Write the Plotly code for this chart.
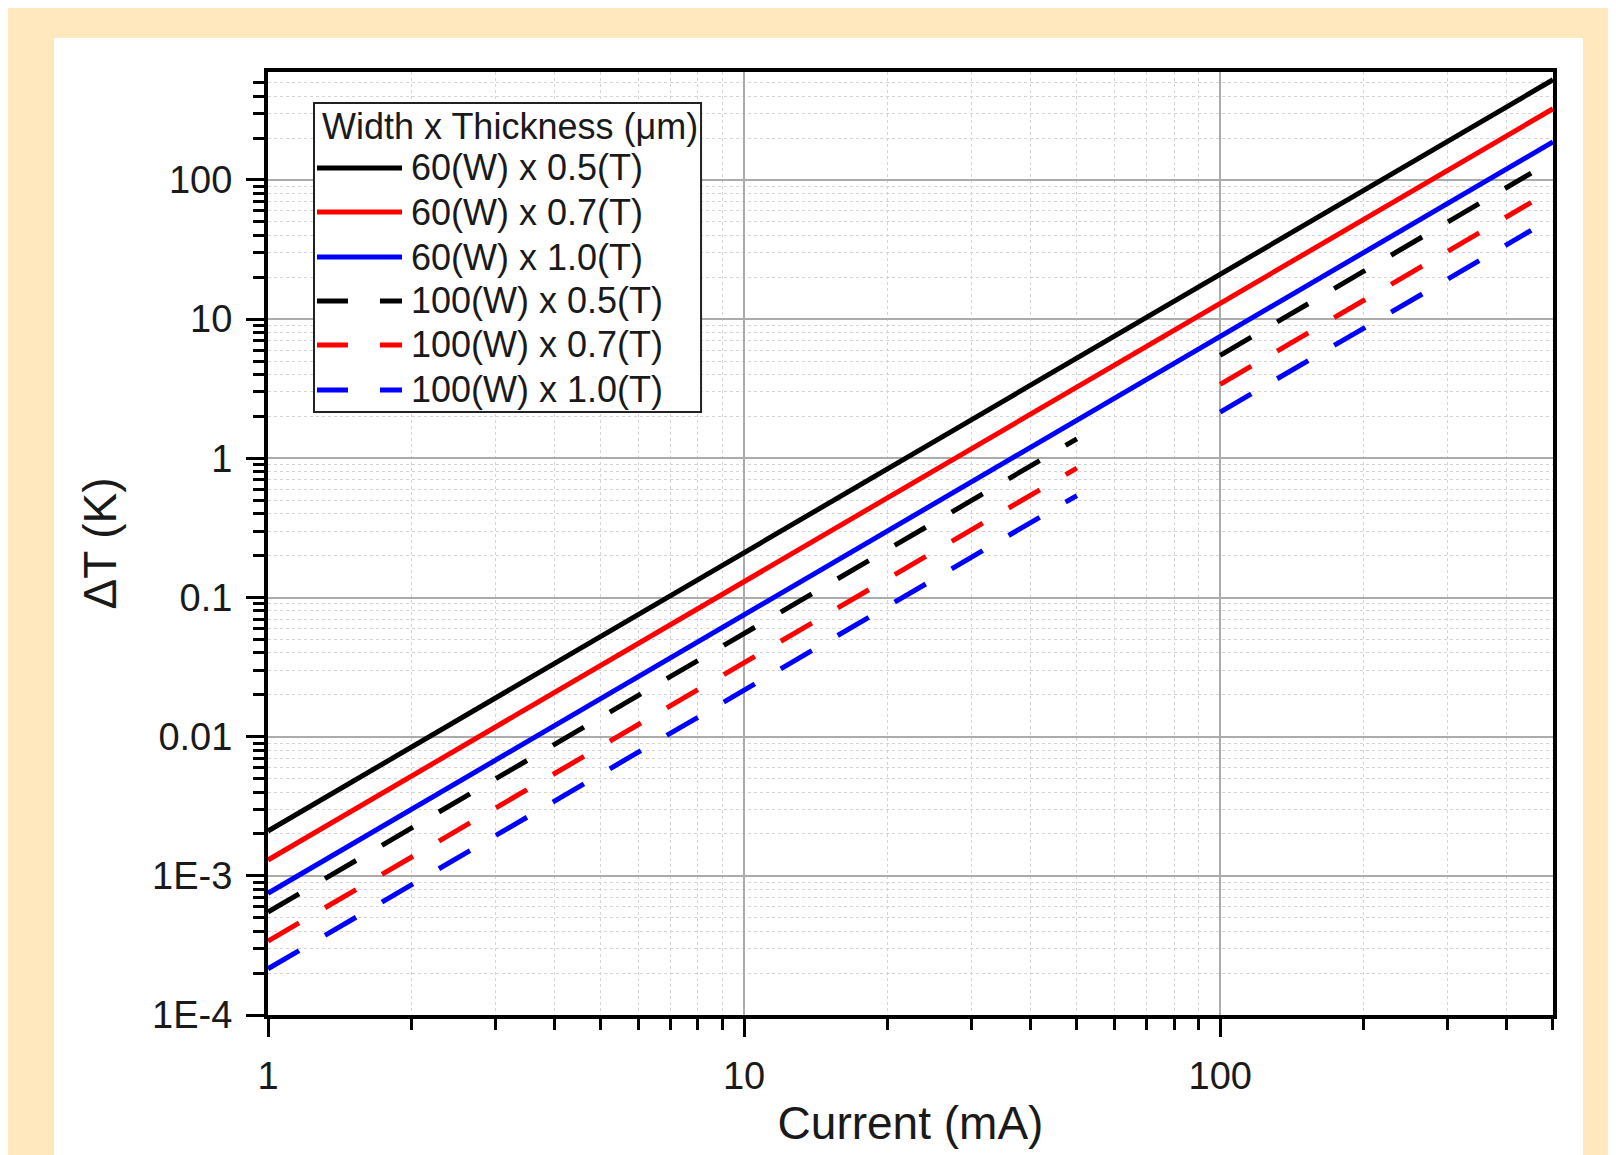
import plotly.graph_objects as go

# ---- data ----
current_60 = [1, 2, 5, 10, 20, 50, 100, 200, 500]
dT_60x05 = [2.1e-3, 8.4e-3, 0.052, 0.21, 0.84, 5.2, 21, 84, 525]
dT_60x07 = [1.3e-3, 5.2e-3, 0.033, 0.13, 0.52, 3.25, 13, 52, 325]
dT_60x10 = [7.5e-4, 3.0e-3, 0.019, 0.075, 0.30, 1.9, 7.5, 30, 188]

current_100 = [1, 2, 5, 10, 20, 50, None, 100, 200, 450]
dT_100x05 = [5.5e-4, 2.2e-3, 0.0138, 0.055, 0.22, 1.38, None, 5.5, 22, 112]
dT_100x07 = [3.4e-4, 1.36e-3, 0.0085, 0.034, 0.136, 0.85, None, 3.4, 13.6, 69]
dT_100x10 = [2.15e-4, 8.6e-4, 0.0054, 0.0215, 0.086, 0.54, None, 2.15, 8.6, 43.5]

names = ["60(W) x 0.5(T)", "60(W) x 0.7(T)", "60(W) x 1.0(T)",
         "100(W) x 0.5(T)", "100(W) x 0.7(T)", "100(W) x 1.0(T)"]
colors = ["#000000", "#ff0000", "#0000ff"]
legend_title = "Width x Thickness (μm)"

y_tickvals = [1e-4, 1e-3, 1e-2, 1e-1, 1, 10, 100]
y_ticktext = ["1E-4", "1E-3", "0.01", "0.1", "1", "10", "100"]
x_tickvals = [1, 10, 100]
x_ticktext = ["1", "10", "100"]
minor_mult = [2, 3, 4, 5, 6, 7, 8, 9]
x_minor = [m * d for d in (1, 10, 100) for m in minor_mult if m * d <= 500]
y_minor = [m * d for d in (1e-4, 1e-3, 1e-2, 1e-1, 1, 10, 100) for m in minor_mult if m * d <= 600]

FONT = "Arial, Liberation Sans, sans-serif"
TXT = "#1a1a1a"
DASH_PLOT = "36px,30px"
DASH_LEG = "31px,32px"

fig = go.Figure()
series_solid = [dT_60x05, dT_60x07, dT_60x10]
series_dash = [dT_100x05, dT_100x07, dT_100x10]
for ys, nm, c in zip(series_solid, names[:3], colors):
    fig.add_trace(go.Scatter(x=current_60, y=ys, name=nm, mode="lines", showlegend=False,
                             line=dict(color=c, width=5)))
for ys, nm, c in zip(series_dash, names[3:], colors):
    fig.add_trace(go.Scatter(x=current_100, y=ys, name=nm, mode="lines", showlegend=False,
                             connectgaps=False,
                             line=dict(color=c, width=5, dash=DASH_PLOT)))

# white panel on orange page
fig.add_shape(type="rect", xref="paper", yref="paper",
              x0=-0.1665, x1=1.0233, y0=-0.25, y1=1.036,
              fillcolor="white", line=dict(width=0), layer="below")

# ---- legend box (drawn in paper coordinates) ----
box_x0, box_x1, box_y0, box_y1 = 0.0358, 0.337, 0.6394, 0.967
fig.add_shape(type="rect", xref="paper", yref="paper",
              x0=box_x0, x1=box_x1, y0=box_y0, y1=box_y1,
              fillcolor="white", line=dict(color="#222222", width=2), layer="above")
fig.add_annotation(xref="paper", yref="paper", x=0.0405, y=0.9427, xanchor="left",
                   yanchor="middle", text=legend_title, showarrow=False,
                   font=dict(family=FONT, size=36, color=TXT))
row_y = [0.8982, 0.8515, 0.8038, 0.7572, 0.7105, 0.6628]
styles = [(c, None) for c in colors] + [(c, DASH_LEG) for c in colors]
for ry, nm, (c, d) in zip(row_y, names, styles):
    ln = dict(color=c, width=5)
    if d:
        ln["dash"] = d
    fig.add_shape(type="line", xref="paper", yref="paper", x0=0.0381, x1=0.1043,
                  y0=ry, y1=ry, line=ln, layer="above")
    fig.add_annotation(xref="paper", yref="paper", x=0.1095, y=ry, xanchor="left",
                       yanchor="middle", text=nm, showarrow=False,
                       font=dict(family=FONT, size=36, color=TXT))

axis_common = dict(
    type="log", showline=True, linecolor="black", linewidth=4, mirror=True,
    ticks="outside", ticklen=18, tickwidth=3, tickcolor="black",
    showgrid=True, gridcolor="#ababab", gridwidth=2,
    tickfont=dict(family=FONT, size=38, color=TXT),
    ticklabelstandoff=6,
    zeroline=False,
)

fig.update_xaxes(**axis_common, range=[0, 2.699], tickvals=x_tickvals,
                 ticktext=x_ticktext,
                 minor=dict(tickvals=x_minor, ticks="outside", ticklen=11, tickwidth=3,
                            tickcolor="black", showgrid=True, gridcolor="#d4d4d4",
                            griddash="dot", gridwidth=1),
                 title=dict(text="Current (mA)", font=dict(family=FONT, size=46, color=TXT),
                            standoff=12))
fig.update_yaxes(**axis_common, range=[-4, 2.776], tickvals=y_tickvals,
                 ticktext=y_ticktext,
                 minor=dict(tickvals=y_minor, ticks="outside", ticklen=11, tickwidth=3,
                            tickcolor="black", showgrid=True, gridcolor="#d4d4d4",
                            griddash="dot", gridwidth=1),
                 title=dict(text="ΔT (K)", font=dict(family=FONT, size=46, color=TXT),
                            standoff=22))

fig.update_layout(
    width=1616, height=1155,
    margin=dict(l=260, r=71, t=64, b=148),
    paper_bgcolor="#ffe8bd", plot_bgcolor="white",
    font=dict(family=FONT, color=TXT),
    showlegend=False,
)

fig.write_html("out.html")
